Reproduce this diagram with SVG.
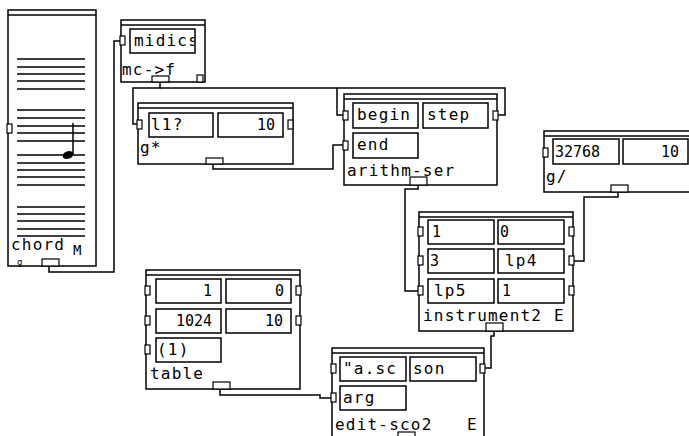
<svg xmlns="http://www.w3.org/2000/svg" width="689" height="436" viewBox="0 0 689 436">
<style>
.box{fill:#fff;stroke:#000;stroke-width:1.5}
.ln{stroke:#000;stroke-width:1.5}
.fld{fill:none;stroke:#000;stroke-width:1.5}
.port{fill:#fff;stroke:#000;stroke-width:1.2}
.wire{fill:none;stroke:#000;stroke-width:1.5}
.staff line{stroke:#000;stroke-width:1.5}
text{font-family:"DejaVu Sans Mono","Liberation Mono",monospace;font-size:16px;letter-spacing:1.2px;fill:#000}
.num{font-size:15px;letter-spacing:0}
.r{text-anchor:end}
</style>
<defs>
<clipPath id="clipMidics"><rect x="131" y="30" width="63" height="22"/></clipPath>
</defs>
<rect x="0" y="0" width="689" height="436" fill="#fff"/>
<g id="connectors">
<path class="wire" d="M49,266 V272 H114 V41 H121"/>
<path class="wire" d="M160,82 V88 H133 V124 H138"/>
<path class="wire" d="M160,88 H337 V115 H344"/>
<path class="wire" d="M337,88 H505 V115 H497"/>
<path class="wire" d="M213,164 V169 H333 V145 H344"/>
<path class="wire" d="M418,185 V189 H405 V291 H419"/>
<path class="wire" d="M618,192 V197 H584 V261 H573"/>
<path class="wire" d="M494,331 V336 H491 V368 H484"/>
<path class="wire" d="M220,389 V395 H320 V398 H332"/>
</g>
<g id="chord">
<rect class="box" x="8" y="10" width="88" height="256"/>
<line class="ln" x1="8" y1="15" x2="96" y2="15"/>
<g class="staff">
<line x1="17" y1="59" x2="85" y2="59"/><line x1="17" y1="67" x2="85" y2="67"/><line x1="17" y1="74" x2="85" y2="74"/><line x1="17" y1="81" x2="85" y2="81"/><line x1="17" y1="89" x2="85" y2="89"/>
<line x1="17" y1="110" x2="85" y2="110"/><line x1="17" y1="118" x2="85" y2="118"/><line x1="17" y1="126" x2="85" y2="126"/><line x1="17" y1="133" x2="85" y2="133"/><line x1="17" y1="141" x2="85" y2="141"/>
<line x1="17" y1="155" x2="85" y2="155"/><line x1="17" y1="163" x2="85" y2="163"/><line x1="17" y1="170" x2="85" y2="170"/><line x1="17" y1="177" x2="85" y2="177"/><line x1="17" y1="185" x2="85" y2="185"/>
<line x1="17" y1="207" x2="85" y2="207"/><line x1="17" y1="214" x2="85" y2="214"/><line x1="17" y1="221" x2="85" y2="221"/><line x1="17" y1="229" x2="85" y2="229"/><line x1="17" y1="236" x2="85" y2="236"/>
</g>
<line class="ln" x1="73" y1="123" x2="73" y2="155"/>
<ellipse cx="68" cy="155" rx="5.5" ry="3.8" fill="#000" transform="rotate(-20 68 155)"/>
<rect class="port" x="7" y="124" width="5" height="9"/>
<rect class="port" x="42" y="259" width="17" height="7"/>
<text x="11" y="250">chord</text>
<text x="73" y="255" style="font-size:14px;letter-spacing:0">M</text>
<text x="17" y="265" style="font-size:9px;letter-spacing:0">g</text>
</g>
<g id="mc-f">
<rect class="box" x="121" y="20" width="84" height="62"/>
<line class="ln" x1="121" y1="25" x2="205" y2="25"/>
<rect class="fld" x="130" y="29" width="65" height="24"/>
<text x="134" y="46" clip-path="url(#clipMidics)">midics</text>
<rect class="port" x="120" y="36" width="5" height="9"/>
<text x="122" y="75">mc-&gt;f</text>
<rect class="port" x="152" y="76" width="17" height="6"/>
<rect class="port" x="197" y="75" width="6" height="7"/>
</g>
<g id="g-mul">
<rect class="box" x="138" y="103" width="155" height="61"/>
<line class="ln" x1="138" y1="108" x2="293" y2="108"/>
<rect class="fld" x="149" y="113" width="64" height="24"/>
<rect class="fld" x="218" y="113" width="65" height="24"/>
<text x="151" y="130">l1?</text>
<text class="num r" x="275" y="130">10</text>
<rect class="port" x="137" y="120" width="5" height="9"/>
<rect class="port" x="288" y="120" width="5" height="9"/>
<text x="140" y="153">g*</text>
<rect class="port" x="206" y="158" width="17" height="6"/>
</g>
<g id="arithm-ser">
<rect class="box" x="344" y="94" width="153" height="91"/>
<line class="ln" x1="344" y1="99" x2="497" y2="99"/>
<rect class="fld" x="353" y="103" width="65" height="25"/>
<rect class="fld" x="423" y="103" width="65" height="25"/>
<rect class="fld" x="353" y="133" width="65" height="25"/>
<text x="357" y="120">begin</text>
<text x="427" y="120">step</text>
<text x="357" y="150">end</text>
<rect class="port" x="343" y="111" width="5" height="9"/>
<rect class="port" x="343" y="141" width="5" height="9"/>
<rect class="port" x="493" y="111" width="5" height="9"/>
<text x="347" y="176">arithm-ser</text>
<rect class="port" x="410" y="177" width="17" height="8"/>
</g>
<g id="g-div">
<rect class="box" x="544" y="131" width="160" height="61"/>
<line class="ln" x1="544" y1="136" x2="704" y2="136"/>
<rect class="fld" x="553" y="139" width="66" height="25"/>
<rect class="fld" x="623" y="139" width="65" height="25"/>
<text class="num" x="555" y="157">32768</text>
<text class="num r" x="679" y="157">10</text>
<rect class="port" x="543" y="148" width="5" height="9"/>
<text x="546" y="182">g/</text>
<rect class="port" x="611" y="185" width="17" height="7"/>
</g>
<g id="instrument2">
<rect class="box" x="419" y="212" width="154" height="119"/>
<line class="ln" x1="419" y1="217" x2="573" y2="217"/>
<rect class="fld" x="428" y="220" width="66" height="24"/>
<rect class="fld" x="498" y="220" width="66" height="24"/>
<rect class="fld" x="428" y="249" width="66" height="24"/>
<rect class="fld" x="498" y="249" width="66" height="24"/>
<rect class="fld" x="428" y="279" width="66" height="24"/>
<rect class="fld" x="498" y="279" width="66" height="24"/>
<text class="num" x="432" y="237">1</text>
<text class="num" x="500" y="237">0</text>
<text class="num" x="430" y="266">3</text>
<text x="505" y="266">lp4</text>
<text x="434" y="296">lp5</text>
<text class="num" x="502" y="296">1</text>
<rect class="port" x="418" y="227" width="5" height="9"/>
<rect class="port" x="418" y="256" width="5" height="9"/>
<rect class="port" x="418" y="286" width="5" height="9"/>
<rect class="port" x="569" y="227" width="5" height="9"/>
<rect class="port" x="569" y="256" width="5" height="9"/>
<rect class="port" x="569" y="286" width="5" height="9"/>
<text x="423" y="321">instrument2</text>
<text x="554" y="321">E</text>
<rect class="port" x="486" y="323" width="17" height="8"/>
</g>
<g id="table">
<rect class="box" x="146" y="270" width="154" height="119"/>
<line class="ln" x1="146" y1="275" x2="300" y2="275"/>
<rect class="fld" x="156" y="279" width="65" height="24"/>
<rect class="fld" x="226" y="279" width="65" height="24"/>
<rect class="fld" x="156" y="309" width="65" height="24"/>
<rect class="fld" x="226" y="309" width="65" height="24"/>
<rect class="fld" x="156" y="338" width="65" height="24"/>
<text class="num r" x="212" y="296">1</text>
<text class="num r" x="284" y="296">0</text>
<text class="num r" x="212" y="326">1024</text>
<text class="num r" x="283" y="326">10</text>
<text x="157" y="355">(1)</text>
<rect class="port" x="145" y="286" width="5" height="9"/>
<rect class="port" x="145" y="316" width="5" height="9"/>
<rect class="port" x="145" y="345" width="5" height="9"/>
<rect class="port" x="296" y="286" width="5" height="9"/>
<rect class="port" x="296" y="316" width="5" height="9"/>
<text x="150" y="379">table</text>
<rect class="port" x="213" y="382" width="17" height="7"/>
</g>
<g id="edit-sco2">
<rect class="box" x="332" y="348" width="152" height="100"/>
<line class="ln" x1="332" y1="353" x2="484" y2="353"/>
<rect class="fld" x="340" y="357" width="66" height="24"/>
<rect class="fld" x="410" y="357" width="66" height="24"/>
<rect class="fld" x="340" y="386" width="66" height="24"/>
<text x="343" y="374">"a.sc</text>
<text x="413" y="374">son</text>
<text x="343" y="403">arg</text>
<rect class="port" x="331" y="364" width="5" height="9"/>
<rect class="port" x="331" y="393" width="5" height="9"/>
<rect class="port" x="480" y="364" width="5" height="9"/>
<text x="335" y="430">edit-sco2</text>
<text x="467" y="430">E</text>
<rect class="port" x="398" y="432" width="17" height="8"/>
</g>
</svg>
